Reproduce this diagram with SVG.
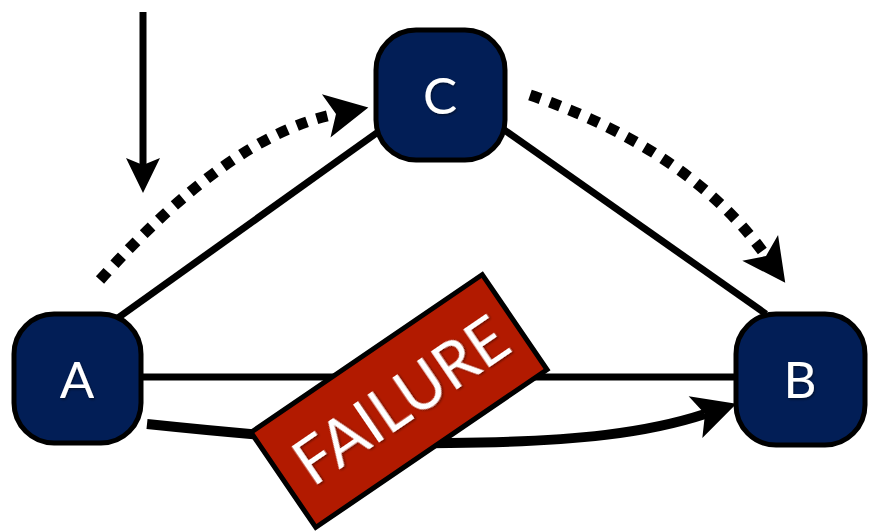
<svg xmlns="http://www.w3.org/2000/svg" width="870" height="532" viewBox="0 0 870 532">
  <defs>
    <style>
      .node rect { fill: #021e56; stroke: #000; stroke-width: 5; }
      .node text { fill: #fff; font-family: Lato, "Open Sans", "Noto Sans", sans-serif; font-size: 51px; text-anchor: middle; filter: url(#txtShadow); }
      .link { fill: none; stroke: #000; stroke-width: 7; }
      .dotted { fill: none; stroke: #000; stroke-width: 11; stroke-dasharray: 11 10; }
      .flow { fill: none; stroke: #000; stroke-width: 10; }
      .badge rect { fill: #b21a00; stroke: #000; stroke-width: 5; }
      .badge text { fill: #fff; font-family: Lato, "Open Sans", "Noto Sans", sans-serif; font-size: 64px; text-anchor: middle; filter: url(#txtShadow); }
    </style>
    <filter id="txtShadow" x="-20%" y="-20%" width="140%" height="150%">
      <feDropShadow dx="1" dy="1.5" stdDeviation="1.2" flood-color="#000" flood-opacity="0.45"/>
    </filter>
    <!-- concave arrowheads, origin at the notch -->
    <marker id="headLarge" markerUnits="userSpaceOnUse" viewBox="-12 -23 48 46" markerWidth="48" markerHeight="46" refX="0" refY="0" orient="auto" overflow="visible">
      <path d="M33,0 L-10,-22 L0,0 L-10,22 Z" fill="#000"/>
    </marker>
    <marker id="headSmall" markerUnits="userSpaceOnUse" viewBox="-9 -18 38 36" markerWidth="38" markerHeight="36" refX="0" refY="0" orient="auto" overflow="visible">
      <path d="M28,0 L-7,-17 L0,0 L-7,17 Z" fill="#000"/>
    </marker>
  </defs>

  <g id="connectors">
    <line class="link" x1="115" y1="320" x2="378" y2="132"/>
    <line class="link" x1="503" y1="129" x2="766" y2="314"/>
    <line class="link" x1="143" y1="377" x2="735" y2="377"/>
    <path class="link" d="M143,12 L143,165" marker-end="url(#headSmall)"/>
    <path class="dotted" d="M100,280 Q230,135 336,114" marker-end="url(#headLarge)"/>
    <path class="dotted" d="M530,95 Q690,150 766,256" marker-end="url(#headLarge)"/>
    <path class="flow" d="M147,424 C300,440 380,444 450,443 C580,442 650,432 705,414" marker-end="url(#headLarge)"/>
  </g>

  <g id="node-A" class="node">
    <rect x="14" y="314" width="127" height="129" rx="40"/>
    <text x="77" y="398">A</text>
  </g>
  <g id="node-C" class="node">
    <rect x="376" y="30" width="129" height="130" rx="40"/>
    <text x="440" y="114">C</text>
  </g>
  <g id="node-B" class="node">
    <rect x="736" y="314" width="129" height="131" rx="40"/>
    <text x="800" y="398">B</text>
  </g>

  <g id="failure" class="badge" transform="translate(399,401) rotate(-34.3)">
    <rect x="-140" y="-57.5" width="280" height="115"/>
    <text x="2" y="23" textLength="244" lengthAdjust="spacingAndGlyphs">FAILURE</text>
  </g>
</svg>
